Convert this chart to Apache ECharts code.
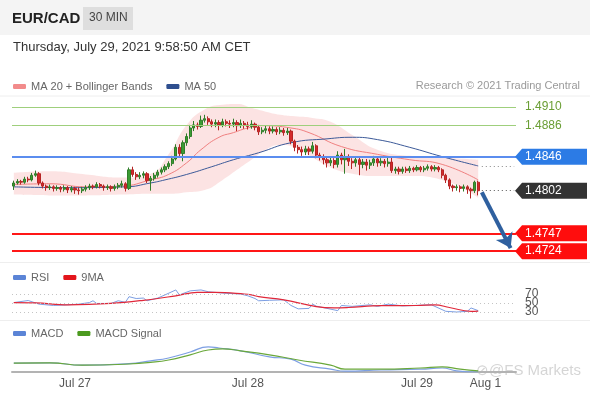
<!DOCTYPE html>
<html>
<head>
<meta charset="utf-8">
<title>EUR/CAD 30 MIN</title>
<script src="https://cdn.jsdelivr.net/npm/echarts@6/dist/echarts.min.js"></script>
<style>
  html, body { margin: 0; padding: 0; background: #fff; }
  #chart { width: 590px; height: 400px; }
</style>
</head>
<body>
<div id="chart"></div>
<script>
// ---- data ----
var firstOpen = 1.4808;
var closes = [
  1.4812,1.4814,1.4813,1.4817,1.4816,1.4822,1.4824,1.4812,1.4808,1.4806,
  1.4807,1.4805,1.4806,1.4804,1.4806,1.4803,1.4805,1.4803,1.4802,1.4804,
  1.4806,1.4808,1.4807,1.4810,1.4808,1.4806,1.4807,1.4805,1.4807,1.4809,
  1.4811,1.4805,1.4829,1.4823,1.4820,1.4822,1.4824,1.4815,1.4818,1.4822,
  1.4826,1.4829,1.4833,1.4837,1.4843,1.4858,1.4850,1.4864,1.4872,1.4883,
  1.4887,1.4885,1.4893,1.4895,1.4891,1.4888,1.4890,1.4887,1.4891,1.4889,
  1.4888,1.4890,1.4886,1.4889,1.4887,1.4885,1.4888,1.4884,1.4878,1.4880,
  1.4882,1.4879,1.4881,1.4878,1.4880,1.4877,1.4879,1.4866,1.4858,1.4855,
  1.4852,1.4856,1.4853,1.4860,1.4848,1.4846,1.4842,1.4838,1.4841,1.4836,
  1.4848,1.4842,1.4846,1.4840,1.4838,1.4842,1.4836,1.4839,1.4835,1.4838,
  1.4843,1.4838,1.4840,1.4837,1.4839,1.4828,1.4830,1.4827,1.4830,1.4828,
  1.4831,1.4829,1.4832,1.4829,1.4831,1.4833,1.4830,1.4832,1.4829,1.4822,
  1.4816,1.4808,1.4806,1.4807,1.4805,1.4807,1.4804,1.4802,1.4813,1.4802
];
var highs = [
  1.4815,1.4817,1.4816,1.4820,1.4820,1.4825,1.4828,1.4826,1.4814,1.4810,
  1.4810,1.4809,1.4809,1.4808,1.4809,1.4808,1.4808,1.4807,1.4806,1.4807,
  1.4809,1.4811,1.4810,1.4813,1.4812,1.4810,1.4810,1.4809,1.4810,1.4812,
  1.4815,1.4813,1.4832,1.4833,1.4826,1.4826,1.4827,1.4826,1.4821,1.4825,
  1.4829,1.4832,1.4836,1.4840,1.4847,1.4862,1.4862,1.4867,1.4876,1.4887,
  1.4892,1.4890,1.4899,1.4900,1.4898,1.4894,1.4894,1.4893,1.4895,1.4894,
  1.4893,1.4895,1.4893,1.4894,1.4892,1.4891,1.4893,1.4890,1.4887,1.4884,
  1.4886,1.4885,1.4885,1.4884,1.4884,1.4883,1.4883,1.4881,1.4868,1.4861,
  1.4859,1.4860,1.4859,1.4865,1.4862,1.4851,1.4849,1.4845,1.4845,1.4844,
  1.4853,1.4851,1.4856,1.4849,1.4844,1.4846,1.4846,1.4843,1.4843,1.4842,
  1.4847,1.4846,1.4844,1.4843,1.4845,1.4846,1.4833,1.4833,1.4833,1.4833,
  1.4834,1.4833,1.4835,1.4834,1.4834,1.4836,1.4835,1.4835,1.4834,1.4831,
  1.4824,1.4818,1.4810,1.4810,1.4809,1.4810,1.4809,1.4806,1.4815,1.4815
];
var lows = [
  1.4803,1.4810,1.4810,1.4811,1.4813,1.4814,1.4820,1.4809,1.4805,1.4802,
  1.4803,1.4801,1.4802,1.4800,1.4801,1.4799,1.4800,1.4798,1.4797,1.4799,
  1.4801,1.4803,1.4804,1.4805,1.4805,1.4802,1.4803,1.4801,1.4802,1.4804,
  1.4806,1.4801,1.4803,1.4820,1.4816,1.4817,1.4818,1.4812,1.4802,1.4815,
  1.4819,1.4823,1.4826,1.4830,1.4834,1.4841,1.4846,1.4840,1.4860,1.4869,
  1.4879,1.4881,1.4883,1.4890,1.4887,1.4884,1.4884,1.4880,1.4884,1.4885,
  1.4883,1.4884,1.4879,1.4883,1.4882,1.4881,1.4882,1.4880,1.4874,1.4875,
  1.4876,1.4875,1.4876,1.4874,1.4875,1.4873,1.4874,1.4862,1.4853,1.4850,
  1.4847,1.4848,1.4848,1.4850,1.4844,1.4841,1.4836,1.4832,1.4834,1.4831,
  1.4832,1.4836,1.4824,1.4834,1.4830,1.4833,1.4822,1.4831,1.4828,1.4830,
  1.4834,1.4833,1.4834,1.4832,1.4833,1.4825,1.4824,1.4823,1.4824,1.4825,
  1.4825,1.4826,1.4827,1.4826,1.4826,1.4828,1.4827,1.4827,1.4826,1.4818,
  1.4812,1.4804,1.4801,1.4802,1.4800,1.4801,1.4798,1.4792,1.4799,1.4796
];

// indicator lines, [candle index, value]
var ma20 = [[0,1.4810],[10,1.4811],[20,1.4807],[30,1.4808],[38,1.4816],[43,1.4823],[48,1.4838],[52,1.4855],[57,1.4871],[61,1.4877],[65,1.4883],[69,1.4886],[77,1.4883],[82,1.4877],[91,1.4859],[101,1.4849],[110,1.4842],[119,1.4836],[129,1.4816]];
var ma50 = [[0,1.4807],[15,1.4806],[31,1.4807],[38,1.4812],[42,1.4816],[48,1.4823],[55,1.4833],[61,1.4842],[68,1.4851],[77,1.4864],[87,1.4869],[94,1.4871],[101,1.4868],[110,1.4858],[119,1.4846],[129,1.4834]];
var bbUpper = [[0,1.4825],[10,1.4827],[20,1.4823],[30,1.4819],[38,1.4824],[43,1.4849],[48,1.4887],[53,1.4907],[58,1.4913],[62,1.4914],[66,1.4909],[70,1.4904],[74,1.4900],[78,1.4898],[83,1.4896],[88,1.4891],[94,1.4874],[101,1.4855],[110,1.4847],[119,1.4845],[129,1.4842]];
var bbLower = [[0,1.4797],[10,1.4796],[20,1.4796],[30,1.4797],[38,1.4798],[43,1.4798],[48,1.4800],[53,1.4803],[58,1.4816],[62,1.4829],[66,1.4842],[70,1.4855],[74,1.4861],[78,1.4858],[83,1.4845],[88,1.4832],[94,1.4824],[101,1.4821],[110,1.4821],[119,1.4816],[129,1.4793]];

var rsi = [[0,51],[4,55.5],[7,47.5],[11,44.5],[15,46],[18,47.5],[21,51],[22,55],[23,49],[27,49],[29,55],[31,51.5],[32,64],[34,60],[36,61],[37,55],[40,61],[42,68],[45,79],[46,68],[49,77],[52,79],[54,75],[56,73.5],[59,71.5],[63,70],[65,66],[67,60],[68,55],[71,56],[75,57],[77,44.5],[79,37],[82,38],[83,47.5],[84,43],[90,33],[91,44.5],[94,42.5],[99,46],[101,42.5],[104,47.5],[108,43.5],[116,46],[120,31.5],[123,30],[126,31.5],[127,39],[129,33]];
var rsiMa = [[0,51],[6,50.4],[15,46],[27,49],[36,56],[45,66],[51,73.5],[56,73.5],[64,70],[66,68],[68,64],[75,57],[84,42],[89,39],[93,40],[102,44],[112,44.5],[117,46],[121,40],[127,31.5],[129,32]];
var rsiLevels = [70, 50, 30];

var macd = [[0,-0.00003],[10,-0.00002],[19,-0.00008],[32,-0.00004],[38,0.00003],[43,0.0001],[49,0.00025],[54,0.00038],[57,0.00035],[63,0.00028],[71,0.00013],[77,0.00007],[81,-0.00008],[88,-0.00018],[92,-0.00023],[102,-0.0002],[113,-0.00018],[119,-0.00015],[123,-0.00022],[129,-0.00025]];
var macdSignal = [[0,-0.00003],[10,-0.00002],[19,-0.00008],[32,-0.00005],[38,-0.00001],[43,0.00005],[49,0.00018],[54,0.0003],[58,0.00033],[63,0.00028],[71,0.00018],[79,0.00005],[88,-0.00008],[92,-0.00018],[102,-0.00018],[113,-0.00015],[119,-0.00012],[124,-0.00018],[129,-0.00022]];

// key levels
var resistLevels = [1.4910, 1.4886];
var pivotLevel = 1.4846;
var supportLevels = [1.4747, 1.4724];
var lastPrice = 1.4802;
var ma50Last = 1.4834;
var arrowFrom = [130, 1.4800];
var arrowTo = [138, 1.4728];

// x axis
var slotCount = 140;
var tickIndex = [17, 65, 112, 131];
var tickLabels = ['Jul 27', 'Jul 28', 'Jul 29', 'Aug 1'];

var categories = [];
var t0 = Date.UTC(2021, 6, 26, 15, 30);
for (var i = 0; i < slotCount; i++) {
  var d = new Date(t0 + i * 1800000);
  categories.push(d.toISOString().slice(0, 16));
}

var candles = [];
for (var k = 0; k < closes.length; k++) {
  var o = k === 0 ? firstOpen : closes[k - 1];
  candles.push([o, closes[k], lows[k], highs[k]]);
}
var bandWidth = bbUpper.map(function (p, k) { return [p[0], +(p[1] - bbLower[k][1]).toFixed(5)]; });

var FONT = '"Liberation Sans", Arial, sans-serif';
var chart = echarts.init(document.getElementById('chart'));

function xAxisFor(idx, showIt) {
  return {
    type: 'category', gridIndex: idx, data: categories, boundaryGap: true,
    show: showIt,
    axisLine: { show: showIt, onZero: false, lineStyle: { color: '#b3b3b3', width: 2 } },
    axisTick: { show: false },
    splitLine: { show: false },
    axisLabel: {
      show: showIt, color: '#555', fontSize: 12, fontFamily: FONT, margin: 6,
      interval: function (index) { return tickIndex.indexOf(index) >= 0; },
      formatter: function (v, index) {
        var p = tickIndex.indexOf(index);
        return p >= 0 ? tickLabels[p] : '';
      }
    }
  };
}

var levelLines = [];
resistLevels.forEach(function (v) {
  levelLines.push({
    yAxis: v,
    lineStyle: { color: '#9fcf7c', width: 1, type: 'solid' },
    label: { show: true, position: 'end', distance: 9, color: '#6a9e34', fontSize: 12, fontFamily: FONT,
      formatter: v.toFixed(4) }
  });
});
levelLines.push({ yAxis: pivotLevel, lineStyle: { color: '#5b8def', width: 2, type: 'solid' }, label: { show: false } });
supportLevels.forEach(function (v) {
  levelLines.push({ yAxis: v, lineStyle: { color: '#ff1717', width: 2, type: 'solid' }, label: { show: false } });
});
levelLines.push([
  { coord: [130, ma50Last], lineStyle: { color: '#888', width: 1, type: [1, 3] }, label: { show: false } },
  { coord: [139, ma50Last] }
]);
levelLines.push([
  { coord: [130, lastPrice], lineStyle: { color: '#555', width: 1, type: [1, 3] }, label: { show: false } },
  { coord: [139, lastPrice] }
]);
levelLines.push([
  { coord: arrowFrom, symbol: 'none', lineStyle: { color: '#2f609f', width: 4, type: 'solid' }, label: { show: false } },
  { coord: arrowTo, symbol: 'arrow', symbolSize: [14, 14] }
]);

var legendText = { color: '#666', fontSize: 11, fontFamily: FONT };

var option = {
  animation: false,
  backgroundColor: '#fff',
  textStyle: { fontFamily: FONT },
  legend: [
    { left: 8, top: 76, icon: 'roundRect', itemWidth: 13, itemHeight: 5, itemGap: 14, selectedMode: false,
      textStyle: legendText, data: ['MA 20 + Bollinger Bands', 'MA 50'] },
    { left: 8, top: 267, icon: 'roundRect', itemWidth: 13, itemHeight: 5, itemGap: 14, selectedMode: false,
      textStyle: legendText, data: ['RSI', '9MA'] },
    { left: 8, top: 323, icon: 'roundRect', itemWidth: 13, itemHeight: 5, itemGap: 14, selectedMode: false,
      textStyle: legendText, data: ['MACD', 'MACD Signal'] }
  ],
  grid: [
    { left: 12, width: 504, top: 97, height: 165 },
    { left: 12, width: 504, top: 289.5, height: 27 },
    { left: 12, width: 504, top: 338, height: 34 }
  ],
  xAxis: [xAxisFor(0, false), xAxisFor(1, false), xAxisFor(2, true)],
  yAxis: [
    { type: 'value', gridIndex: 0, min: 1.4710, max: 1.4923, show: false, splitLine: { show: false } },
    { type: 'value', gridIndex: 1, min: 20, max: 80, show: false, splitLine: { show: false } },
    { type: 'value', gridIndex: 2, min: -0.00025, max: 0.0006, show: false, splitLine: { show: false } }
  ],
  series: [
    { name: 'bbBase', type: 'line', xAxisIndex: 0, yAxisIndex: 0, stack: 'bb', data: bbLower,
      smooth: true, symbol: 'none', lineStyle: { opacity: 0 }, z: 1, silent: true },
    { name: 'bbBand', type: 'line', xAxisIndex: 0, yAxisIndex: 0, stack: 'bb', data: bandWidth,
      smooth: true, symbol: 'none', lineStyle: { opacity: 0 }, areaStyle: { color: '#fbdede', opacity: 0.85 }, z: 1, silent: true },
    { name: 'MA 20 + Bollinger Bands', type: 'line', xAxisIndex: 0, yAxisIndex: 0, data: ma20,
      smooth: true, symbol: 'none', itemStyle: { color: '#f28b8b' }, lineStyle: { color: '#f08080', width: 1 }, z: 2 },
    { name: 'MA 50', type: 'line', xAxisIndex: 0, yAxisIndex: 0, data: ma50,
      smooth: true, symbol: 'none', itemStyle: { color: '#2f4f8f' }, lineStyle: { color: '#3c5a99', width: 1 }, z: 2,
      markLine: { silent: true, symbol: ['none', 'none'], animation: false, precision: 4, data: levelLines } },
    { name: 'EUR/CAD', type: 'candlestick', xAxisIndex: 0, yAxisIndex: 0, data: candles, barWidth: 2.6, z: 3,
      itemStyle: { color: '#3b9b33', color0: '#d52b2b', borderColor: '#2f7d29', borderColor0: '#b52424', borderWidth: 1 } },
    { name: 'RSI', type: 'line', xAxisIndex: 1, yAxisIndex: 1, data: rsi, symbol: 'none',
      itemStyle: { color: '#5b84d6' }, lineStyle: { color: '#7d9fe3', width: 1 },
      markLine: { silent: true, symbol: ['none', 'none'],
        lineStyle: { color: '#c4c4c4', width: 1, type: [1, 3] },
        label: { position: 'end', distance: 9, color: '#555', fontSize: 12, fontFamily: FONT },
        data: rsiLevels.map(function (v) { return { yAxis: v }; }) } },
    { name: '9MA', type: 'line', xAxisIndex: 1, yAxisIndex: 1, data: rsiMa, smooth: 0.4, symbol: 'none',
      itemStyle: { color: '#e3151c' }, lineStyle: { color: '#e0283a', width: 1.2 } },
    { name: 'MACD', type: 'line', xAxisIndex: 2, yAxisIndex: 2, data: macd, smooth: true, symbol: 'none',
      itemStyle: { color: '#5b84d6' }, lineStyle: { color: '#7d9fe3', width: 1.2 },
      markLine: { silent: true, symbol: ['none', 'none'], lineStyle: { opacity: 0 },
        label: { position: 'end', distance: 9, color: '#555', fontSize: 12, fontFamily: FONT, offset: [0, -3], formatter: '0' },
        data: [{ yAxis: 0 }] } },
    { name: 'MACD Signal', type: 'line', xAxisIndex: 2, yAxisIndex: 2, data: macdSignal, smooth: true, symbol: 'none',
      itemStyle: { color: '#4c9a1f' }, lineStyle: { color: '#6aa83a', width: 1.2 } }
  ]
};
chart.setOption(option);

// header, texts, separators and price tags
function yOf(v) { return chart.convertToPixel({ yAxisIndex: 0 }, v); }
var tags = [
  { v: pivotLevel, color: '#2c7be5' },
  { v: lastPrice, color: '#333333' },
  { v: supportLevels[0], color: '#ff0d0d' },
  { v: supportLevels[1], color: '#ff0d0d' }
];
var graphics = [
  { type: 'rect', left: 0, top: 0, shape: { width: 590, height: 35 }, style: { fill: '#f4f4f4' }, z: -1 },
  { type: 'text', left: 12, top: 11, style: { text: 'EUR/CAD', fill: '#222', font: 'bold 15px ' + FONT } },
  { type: 'rect', left: 83, top: 7, shape: { width: 50, height: 23 }, style: { fill: '#dedede' } },
  { type: 'text', left: 89, top: 12, style: { text: '30 MIN', fill: '#444', font: '12px ' + FONT } },
  { type: 'text', left: 13, top: 41, style: { text: 'Thursday, July 29, 2021 9:58:50 AM CET', fill: '#333', font: '13px ' + FONT } },
  { type: 'text', right: 10, top: 80, style: { text: 'Research \u00a9 2021 Trading Central', fill: '#9a9a9a', font: '11px ' + FONT } },
  { type: 'line', shape: { x1: 0, y1: 96, x2: 590, y2: 96 }, style: { stroke: '#eeeeee', lineWidth: 1 } },
  { type: 'line', shape: { x1: 0, y1: 262.5, x2: 590, y2: 262.5 }, style: { stroke: '#eeeeee', lineWidth: 1 } },
  { type: 'line', shape: { x1: 0, y1: 320.5, x2: 590, y2: 320.5 }, style: { stroke: '#eeeeee', lineWidth: 1 } },
  { type: 'text', left: 476, top: 363, style: { text: '\u2298@FS Markets', fill: 'rgba(150,150,150,0.4)', font: '15px ' + FONT } }
];
tags.forEach(function (t) {
  var y = yOf(t.v);
  graphics.push({ type: 'polygon', shape: { points: [[515, y], [522, y - 8], [587, y - 8], [587, y + 8], [522, y + 8]] },
    style: { fill: t.color }, z: 10 });
  graphics.push({ type: 'text', x: 525, y: y, style: { text: t.v.toFixed(4), fill: '#fff', font: '12px ' + FONT, verticalAlign: 'middle' }, z: 11 });
});
chart.setOption({ graphic: graphics });
</script>
</body>
</html>
